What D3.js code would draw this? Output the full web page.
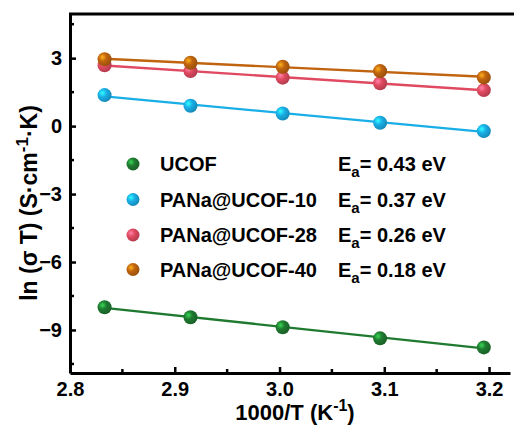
<!DOCTYPE html>
<html>
<head>
<meta charset="utf-8">
<script src="https://d3js.org/d3.v7.min.js"></script>
<style>
  body { margin: 0; background: #fff; }
  text { font-family: Arial, "Liberation Sans", sans-serif; font-weight: bold; }
</style>
</head>
<body>
<svg id="chart"></svg>
<script>
// x = 1000/T for T = 353..313 K
var xVals = [2.833, 2.915, 3.003, 3.096, 3.195];

var names = ['UCOF', 'PANa@UCOF-10', 'PANa@UCOF-28', 'PANa@UCOF-40'];
var energies = ['0.43', '0.37', '0.26', '0.18'];
var colors = ['#1f7a30', '#1aaee6', '#e04a60', '#c0640f'];

var ucof   = [-8.00, -8.44, -8.88, -9.37, -9.77];
var pana10 = [1.37, 0.90, 0.56, 0.15, -0.22];
var pana28 = [2.69, 2.43, 2.14, 1.89, 1.59];
var pana40 = [2.95, 2.80, 2.62, 2.43, 2.15];
var seriesVals = [ucof, pana10, pana28, pana40];

var xTicks = [2.8, 2.9, 3.0, 3.1, 3.2];
var yTicks = [-9, -6, -3, 0, 3];

var W = 514, H = 428;
var svg = d3.select('#chart').attr('width', W).attr('height', H);

var x = d3.scaleLinear().domain([2.8, 3.22]).range([70, 510]);
var y = d3.scaleLinear().domain([-10.9, 4.95]).range([373, 14]);

// gradients for the shaded balls
var defs = svg.append('defs');
colors.forEach(function(c, i) {
  var g = defs.append('radialGradient')
      .attr('id', 'ball' + i)
      .attr('cx', '35%').attr('cy', '35%').attr('r', '65%');
  g.append('stop').attr('offset', '0%').attr('stop-color', d3.color(c).brighter(1.6));
  g.append('stop').attr('offset', '45%').attr('stop-color', c);
  g.append('stop').attr('offset', '100%').attr('stop-color', d3.color(c).darker(0.6));
});

// fit lines
function fit(xs, ys) {
  var mx = d3.mean(xs), my = d3.mean(ys);
  var num = d3.sum(xs, function(d, i) { return (d - mx) * (ys[i] - my); });
  var den = d3.sum(xs, function(d) { return (d - mx) * (d - mx); });
  var b = num / den;
  return function(v) { return my + b * (v - mx); };
}

seriesVals.forEach(function(vals, i) {
  var f = fit(xVals, vals);
  var x0 = xVals[0], x1 = xVals[xVals.length - 1];
  svg.append('line')
      .attr('x1', x(x0)).attr('y1', y(f(x0)))
      .attr('x2', x(x1)).attr('y2', y(f(x1)))
      .attr('stroke', colors[i])
      .attr('stroke-width', 2.4);
});

seriesVals.forEach(function(vals, i) {
  svg.append('g').selectAll('circle')
      .data(vals)
      .enter().append('circle')
      .attr('cx', function(d, j) { return x(xVals[j]); })
      .attr('cy', function(d) { return y(d); })
      .attr('r', 7)
      .attr('fill', 'url(#ball' + i + ')');
});

// axes
var xAxis = d3.axisBottom(x).tickValues(xTicks).tickFormat(d3.format('.1f')).tickSizeInner(-6).tickSizeOuter(0).tickPadding(9);
var gx = svg.append('g').attr('transform', 'translate(0,' + 373 + ')').call(xAxis);
var yAxis = d3.axisLeft(y).tickValues(yTicks).tickFormat(d3.format('d')).tickSizeInner(-6).tickSizeOuter(0).tickPadding(8);
var gy = svg.append('g').attr('transform', 'translate(70,0)').call(yAxis);

[gx, gy].forEach(function(g) {
  g.select('.domain').attr('stroke', '#000').attr('stroke-width', 3);
  g.selectAll('.tick line').attr('stroke', '#000').attr('stroke-width', 2.5);
  g.selectAll('.tick text').attr('fill', '#000').style('font-size', '20px')
      .style('font-family', 'Arial, "Liberation Sans", sans-serif').style('font-weight', 'bold');
});
gx.selectAll('.tick text').attr('dy', '0.71em');

// minor ticks
var xMinor = [2.85, 2.95, 3.05, 3.15];
svg.append('g').selectAll('line').data(xMinor).enter().append('line')
    .attr('x1', function(d) { return x(d); }).attr('x2', function(d) { return x(d); })
    .attr('y1', 373).attr('y2', 369)
    .attr('stroke', '#000').attr('stroke-width', 2.5);
var yMinor = [-10.5, -7.5, -4.5, -1.5, 1.5, 4.5];
svg.append('g').selectAll('line').data(yMinor).enter().append('line')
    .attr('x1', 70).attr('x2', 74)
    .attr('y1', function(d) { return y(d); }).attr('y2', function(d) { return y(d); })
    .attr('stroke', '#000').attr('stroke-width', 2.5);

// top border
svg.append('line').attr('x1', 69).attr('x2', W).attr('y1', 14).attr('y2', 14)
    .attr('stroke', '#000').attr('stroke-width', 3);

// axis titles
var xt = svg.append('text').attr('x', 295).attr('y', 420).attr('text-anchor', 'middle')
    .style('font-size', '22px');
xt.append('tspan').text('1000/T (K');
xt.append('tspan').attr('dy', -9).style('font-size', '16px').text('-1');
xt.append('tspan').attr('dy', 9).text(')');

var yt = svg.append('text').attr('transform', 'translate(37,203) rotate(-90)')
    .attr('text-anchor', 'middle').style('font-size', '23px');
yt.append('tspan').text('ln (σ T) (S·cm');
yt.append('tspan').attr('dy', -9).style('font-size', '17px').text('-1');
yt.append('tspan').attr('dy', 9).text('·K)');

// legend
var legY = [164, 199.5, 235, 269.5];
names.forEach(function(n, i) {
  svg.append('circle').attr('cx', 133).attr('cy', legY[i]).attr('r', 6.5)
      .attr('fill', 'url(#ball' + i + ')');
  svg.append('text').attr('x', 160).attr('y', legY[i] + 7)
      .style('font-size', '20px').text(n);
  var t = svg.append('text').attr('x', 338).attr('y', legY[i] + 7).style('font-size', '20px');
  t.append('tspan').text('E');
  t.append('tspan').attr('dy', 6).style('font-size', '15px').text('a');
  t.append('tspan').attr('dy', -6).text('= ' + energies[i] + ' eV');
});
</script>
</body>
</html>
